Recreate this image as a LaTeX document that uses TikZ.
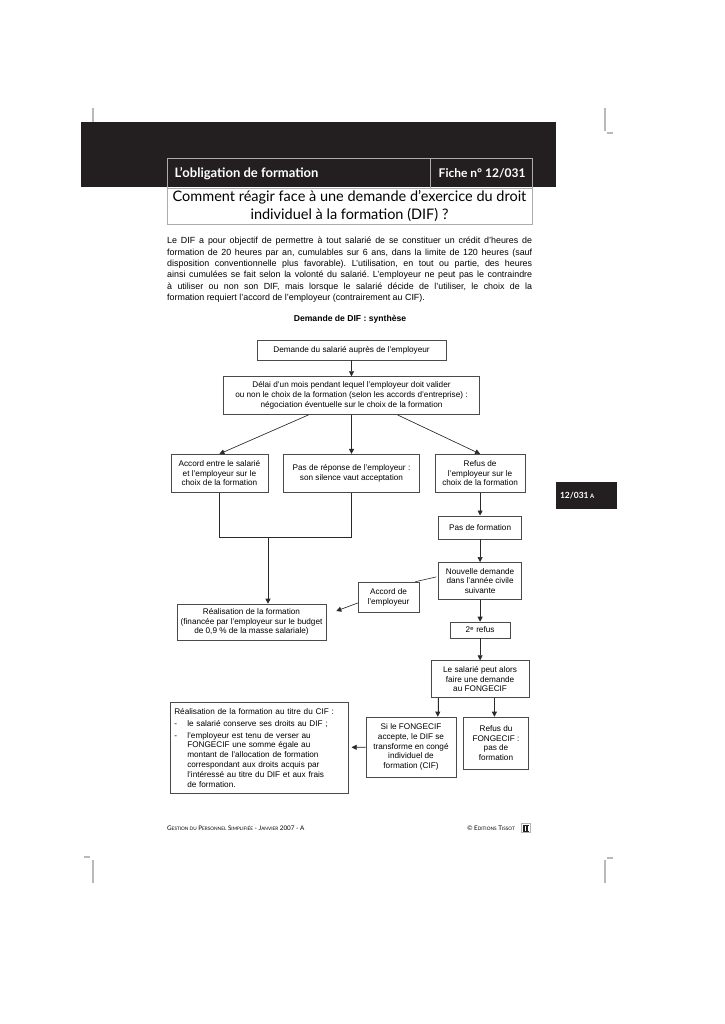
\documentclass[tikz,border=0pt]{standalone}
\usepackage{fontspec}
\setmainfont{Liberation Sans}
\newfontfamily\titlefont{Lato}
\usepackage{tikz}
\usetikzlibrary{positioning,calc,arrows.meta}

\definecolor{band}{HTML}{231F20}
\definecolor{frame}{HTML}{4A4A4A}
\definecolor{wire}{HTML}{2A2A2A}
\newcommand{\fsc}[2]{#1{\fontsize{4.7}{5}\selectfont #2}}
\newcommand{\boxfont}{\fontsize{8.2}{9.8}\selectfont}
\frenchspacing

\begin{document}
\begin{tikzpicture}[x=1pt, y=-1pt,
    box/.style={draw=frame, line width=0.6pt, inner sep=2pt, align=center, font=\boxfont},
    arrow/.style={-{Triangle[length=5pt,width=5pt]}, line width=0.6pt, draw=wire, fill=wire},
    link/.style={line width=0.6pt, draw=wire},
    crop/.style={draw=gray!55, line width=1.2pt},
    titlerule/.style={draw=gray!65, line width=0.8pt}
]
  \useasboundingbox (0,0) rectangle (724,1024);
  \fill[white] (0,0) rectangle (724,1024);

  % Crop marks
  \draw[crop] (93,108) -- (93,122);
  \draw[crop] (605,108) -- (605,131);
  \draw[crop] (607,133) -- (613,133);
  \draw[crop] (84,857) -- (90,857);
  \draw[crop] (93,860) -- (93,883);
  \draw[crop] (607,858) -- (613,858);
  \draw[crop] (605,860) -- (605,883);

  % Header band and title table
  \fill[band] (81,122) rectangle (556,187);
  \draw[titlerule] (167,158) rectangle (532,224);
  \draw[titlerule] (167,188) -- (532,188);
  \draw[titlerule] (430,158) -- (430,188);
  \node[anchor=base west, text=white, font=\titlefont\bfseries\fontsize{13}{15}\selectfont] (theme) at (171,178) {L’obligation de formation};
  \node[anchor=base east, text=white, font=\titlefont\bfseries\fontsize{12}{14}\selectfont] (fiche) at (529,178) {Fiche n° 12/031};
  \node[align=center, font=\titlefont\fontsize{14.5}{18}\selectfont] (question) at (349.5,206) {Comment réagir face à une demande d’exercice du droit\\individuel à la formation (DIF) ?};

  % Introduction
  \node[anchor=north west, inner sep=0, text width=365pt, align=justify, font=\fontsize{8.9}{11.4}\selectfont] (intro) at (167,237) {Le DIF a pour objectif de permettre à tout salarié de se constituer un crédit d’heures de\linebreak
  formation de 20 heures par an, cumulables sur 6 ans, dans la limite de 120 heures (sauf\linebreak
  disposition conventionnelle plus favorable). L’utilisation, en tout ou partie, des heures\linebreak
  ainsi cumulées se fait selon la volonté du salarié. L’employeur ne peut pas le contraindre\linebreak
  à utiliser ou non son DIF, mais lorsque le salarié décide de l’utiliser, le choix de la\linebreak
  formation requiert l’accord de l’employeur (contrairement au CIF).};

  \node[font=\bfseries\fontsize{8.6}{10}\selectfont] (synth) at (350,319) {Demande de DIF : synthèse};

  % Chart
  \node[box, minimum width=189pt, minimum height=20pt] (demande) at (351.5,350) {Demande du salarié auprès de l’employeur};
  \node[box, minimum width=256pt, minimum height=38pt, below=16pt of demande] (delai) {Délai d’un mois pendant lequel l’employeur doit valider\\ou non le choix de la formation (selon les accords d’entreprise) :\\négociation éventuelle sur le choix de la formation};
  \node[box, minimum width=136pt, minimum height=38pt, below=39pt of delai] (silence) {Pas de réponse de l’employeur :\\son silence vaut acceptation};
  \node[box, minimum width=97pt, minimum height=38pt, left=15pt of silence] (accord) {Accord entre le salarié\\et l’employeur sur le\\choix de la formation};
  \node[box, minimum width=90pt, minimum height=38pt, right=15pt of silence] (refus) {Refus de\\l’employeur sur le\\choix de la formation};
  \node[box, minimum width=83pt, minimum height=23pt, below=23pt of refus] (pasform) {Pas de formation};
  \node[box, minimum width=83pt, minimum height=37pt, below=23pt of pasform] (nouvelle) {Nouvelle demande\\dans l’année civile\\suivante};
  \node[box, minimum width=60pt, minimum height=16pt, below=22pt of nouvelle] (refus2) {2\textsuperscript{e} refus};
  \node[box, minimum width=98pt, minimum height=37pt, below=22pt of refus2] (fongecif) {Le salarié peut alors\\faire une demande\\au FONGECIF};
  \node[box, minimum width=61pt, minimum height=30pt] (accemp) at (388.5,597) {Accord de\\l’employeur};
  \node[box, minimum width=149pt, minimum height=36pt] (realis) at (251.5,622) {Réalisation de la formation\\(financée par l’employeur sur le budget\\de 0,9 \% de la masse salariale)};
  \node[box, anchor=north west, text width=170pt, inner sep=4pt, minimum height=91pt, align=left] (cif) at (170,702) {Réalisation de la formation au titre du CIF :\\[2pt]
  \makebox[13pt][l]{-}le salarié conserve ses droits au DIF ;\\[2pt]
  \makebox[13pt][l]{-}l’employeur est tenu de verser au\\
  \hspace*{13pt}FONGECIF une somme égale au\\
  \hspace*{13pt}montant de l’allocation de formation\\
  \hspace*{13pt}correspondant aux droits acquis par\\
  \hspace*{13pt}l’intéressé au titre du DIF et aux frais\\
  \hspace*{13pt}de formation.};
  \node[box, minimum width=90pt, minimum height=60pt] (accepte) at (411,747) {Si le FONGECIF\\accepte, le DIF se\\transforme en congé\\individuel de\\formation (CIF)};
  \node[box, minimum width=65pt, minimum height=52pt] (refusf) at (496,743) {Refus du\\FONGECIF :\\pas de\\formation};

  % Connectors
  \coordinate (jn) at (268,537);
  \draw[arrow] (demande) -- (delai);
  \draw[arrow] ([xshift=-43pt]delai.south) -- (accord.north);
  \draw[arrow] (delai) -- (silence);
  \draw[arrow] ([xshift=46pt]delai.south) -- (refus.north);
  \draw[link] (accord.south) -- (accord.south |- jn) -- (silence.south |- jn) -- (silence.south);
  \draw[arrow] (jn) -- (jn |- realis.north);
  \draw[arrow] (refus) -- (pasform);
  \draw[arrow] (pasform) -- (nouvelle);
  \draw[arrow] (nouvelle) -- (refus2);
  \draw[arrow] (refus2) -- (fongecif);
  \draw[link] ([xshift=-2pt,yshift=4pt]nouvelle.west) -- ([xshift=-4pt]accemp.north east);
  \draw[arrow] ([yshift=-6pt]accemp.west) -- ([xshift=10pt,yshift=11pt]realis.east);
  \draw[arrow] ([xshift=7pt]fongecif.south west) coordinate (f1) -- (f1 |- accepte.north);
  \draw[arrow] ([xshift=-35pt]fongecif.south east) coordinate (f2) -- (f2 |- refusf.north);
  \draw[arrow, shorten >=3pt] (accepte) -- (cif);

  % Side tab
  \fill[band] (556,482) rectangle (617,509);
  \node[anchor=west, text=white, font=\titlefont\bfseries\fontsize{8.5}{10}\selectfont] (tab) at (556.5,495.5) {12/031\,{\fontsize{6}{7}\selectfont A}};

  % Footer
  \node[anchor=west, inner sep=0, font=\titlefont\fontsize{6.3}{7}\selectfont] (footleft) at (167,828) {\fsc{G}{ESTION DU} \fsc{P}{ERSONNEL} \fsc{S}{IMPLIFIÉE} - \fsc{J}{ANVIER} 2007 - A};
  \node[anchor=east, inner sep=0, font=\titlefont\fontsize{6.3}{7}\selectfont] (footright) at (515,828) {© \fsc{E}{DITIONS} \fsc{T}{ISSOT}};
  \draw[gray!60, line width=0.6pt] (521,823) rectangle (530,832);
  \fill[band] (522.5,824.5) rectangle (528.5,825.7);
  \fill[band] (523.2,825.7) rectangle (524.7,830.5);
  \fill[band] (526.3,825.7) rectangle (527.8,830.5);
  \fill[band] (522.5,830.5) rectangle (528.5,831.3);
\end{tikzpicture}
\end{document}
